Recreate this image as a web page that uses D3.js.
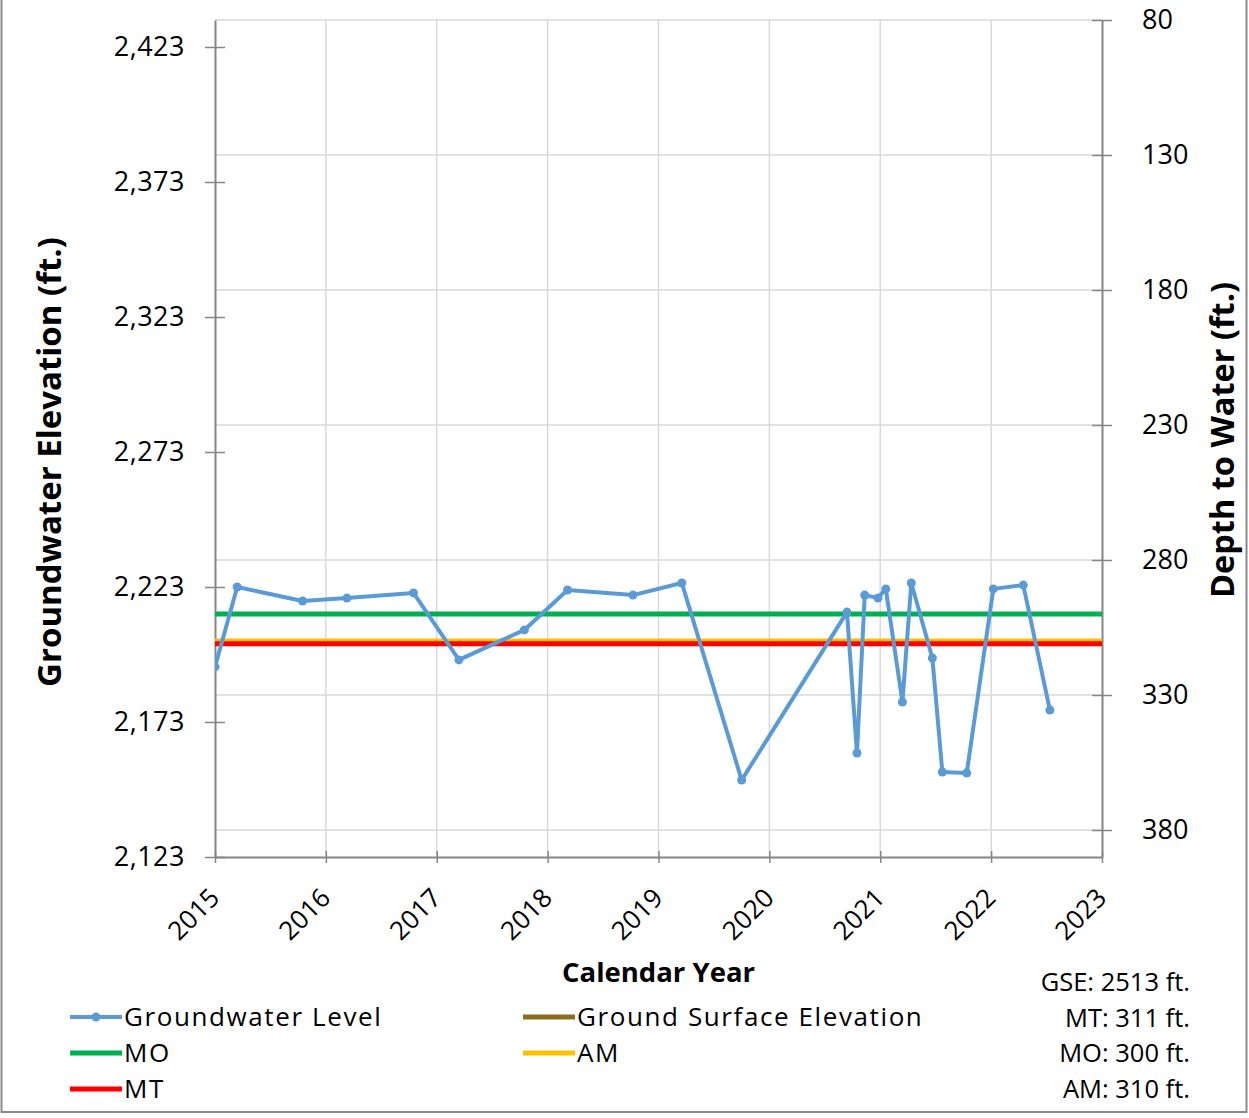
<!DOCTYPE html>
<html>
<head>
<meta charset="utf-8">
<script src="https://cdn.jsdelivr.net/npm/d3@7"></script>
<style>
  html, body { margin: 0; padding: 0; background: #fff; }
  svg { display: block; font-family: "Open Sans", Lato, sans-serif; }
</style>
</head>
<body>
<svg id="chart" width="1249" height="1118"></svg>
<script>
// ---- data ----
const GSE = 2513;
const dates = [2015.0, 2015.2, 2015.79, 2016.19, 2016.79, 2017.2, 2017.79, 2018.18, 2018.77, 2019.21,
               2019.75, 2020.7, 2020.79, 2020.86, 2020.98, 2021.05, 2021.2, 2021.28, 2021.47, 2021.56,
               2021.78, 2022.02, 2022.29, 2022.53];
const elevations = [2193.4, 2223.0, 2217.8, 2218.9, 2220.8, 2196.0, 2207.1, 2221.9, 2220.0, 2224.5,
                    2151.5, 2213.7, 2161.5, 2220.0, 2218.9, 2222.3, 2180.4, 2224.5, 2196.7, 2154.5,
                    2154.1, 2222.3, 2223.7, 2177.4];
const thresholdNames = ["Ground Surface Elevation", "AM", "MT", "MO"];
const thresholdDepths = [0, 310, 311, 300];
const thresholdColors = ["#8C6D1F", "#FFC000", "#FF0000", "#00B050"];
const leftTicks = [2123, 2173, 2223, 2273, 2323, 2373, 2423];
const rightTicks = [80, 130, 180, 230, 280, 330, 380];
const yearTicks = [2015, 2016, 2017, 2018, 2019, 2020, 2021, 2022, 2023];
const legendItems = [
  {name: "Groundwater Level", color: "#5B9BD5", marker: true},
  {name: "Ground Surface Elevation", color: "#8C6D1F"},
  {name: "MO", color: "#00B050"},
  {name: "AM", color: "#FFC000"},
  {name: "MT", color: "#FF0000"}
];
const notes = ["GSE: 2513 ft.", "MT: 311 ft.", "MO: 300 ft.", "AM: 310 ft."];

// ---- layout ----
const svg = d3.select("#chart");
const L = 215, R = 1102, T = 20, B = 857;
const x = d3.scaleLinear().domain([2015, 2023]).range([L, R]);
const yDepth = d3.scaleLinear().domain([80, 390]).range([T, B]);
const yElev = d3.scaleLinear().domain([GSE - 80, GSE - 390]).range([T, B]);

// outer border
svg.append("rect").attr("x", 1.5).attr("y", -2).attr("width", 1245).attr("height", 1114)
  .attr("fill", "none").attr("stroke", "#8a8a8a").attr("stroke-width", 2);

svg.append("clipPath").attr("id", "clip").append("rect")
  .attr("x", L).attr("y", T).attr("width", R - L).attr("height", B - T);

// gridlines
const grid = svg.append("g").attr("stroke", "#d9d9d9").attr("stroke-width", 1.5);
grid.selectAll(".h").data(rightTicks).join("line")
  .attr("x1", L).attr("x2", R).attr("y1", d => yDepth(d)).attr("y2", d => yDepth(d));
grid.selectAll(".v").data(yearTicks.slice(1, -1)).join("line")
  .attr("y1", T).attr("y2", B).attr("x1", d => x(d)).attr("x2", d => x(d));

// axes
const axisColor = "#868686";
const gL = svg.append("g").attr("transform", `translate(${L},0)`)
  .call(d3.axisLeft(yElev).tickValues(leftTicks).tickFormat(d3.format(",")).tickSize(0).tickPadding(30));
const gR = svg.append("g").attr("transform", `translate(${R},0)`)
  .call(d3.axisRight(yDepth).tickValues(rightTicks).tickFormat(d3.format("d")).tickSize(0).tickPadding(40));
const gB = svg.append("g").attr("transform", `translate(0,${B})`)
  .call(d3.axisBottom(x).tickValues(yearTicks).tickFormat(d3.format("d")).tickSize(0).tickPadding(10));
[gL, gR, gB].forEach(g => {
  g.select(".domain").attr("stroke", axisColor).attr("stroke-width", 2);
  g.selectAll("text").attr("font-size", 27).attr("fill", "#000").attr("font-family", "'Open Sans', sans-serif");
});
gL.selectAll("text").attr("letter-spacing", "0.5px");
gB.selectAll("text").attr("text-anchor", "end").attr("dy", "0.3em").attr("font-size", 26)
  .attr("transform", "translate(-7,30) rotate(-45)");
// cross ticks
gL.selectAll(".tick").append("line").attr("x1", -10).attr("x2", 10).attr("stroke", axisColor).attr("stroke-width", 1.5);
gR.selectAll(".tick").append("line").attr("x1", -10).attr("x2", 10).attr("stroke", axisColor).attr("stroke-width", 1.5);
gB.selectAll(".tick").append("line").attr("y1", -6).attr("y2", 6).attr("stroke", axisColor).attr("stroke-width", 1.5);

// threshold lines
const plot = svg.append("g").attr("clip-path", "url(#clip)");
plot.selectAll(".thr").data(thresholdDepths).join("line")
  .attr("x1", L).attr("x2", R)
  .attr("y1", d => yDepth(d)).attr("y2", d => yDepth(d))
  .attr("stroke", (d, i) => thresholdColors[i]).attr("stroke-width", 5);

// groundwater level
const pts = dates.map((d, i) => [d, elevations[i]]);
plot.append("path").datum(pts)
  .attr("fill", "none").attr("stroke", "#5B9BD5").attr("stroke-width", 4).attr("stroke-linejoin", "round")
  .attr("d", d3.line().x(d => x(d[0])).y(d => yElev(d[1])));
plot.selectAll(".pt").data(pts).join("circle")
  .attr("cx", d => x(d[0])).attr("cy", d => yElev(d[1])).attr("r", 4.5).attr("fill", "#5B9BD5");

// axis titles
svg.append("text").attr("transform", `translate(61,462) rotate(-90)`)
  .attr("text-anchor", "middle").attr("font-size", 33).attr("font-weight", "bold").text("Groundwater Elevation (ft.)");
svg.append("text").attr("transform", `translate(1234,440) rotate(-90)`)
  .attr("text-anchor", "middle").attr("font-size", 32.5).attr("font-weight", "bold").text("Depth to Water (ft.)");
svg.append("text").attr("x", (L + R) / 2).attr("y", 982)
  .attr("text-anchor", "middle").attr("font-size", 27.5).attr("font-weight", "bold").text("Calendar Year");

// legend
const legPos = [[70, 1017], [523, 1017], [70, 1053], [523, 1053], [70, 1089]];
const leg = svg.append("g").selectAll("g").data(legendItems).join("g")
  .attr("transform", (d, i) => `translate(${legPos[i][0]},${legPos[i][1]})`);
leg.append("line").attr("x1", 0).attr("x2", 52).attr("stroke", d => d.color).attr("stroke-width", d => d.marker ? 4 : 5);
leg.filter(d => d.marker).append("circle").attr("cx", 26).attr("r", 4.5).attr("fill", d => d.color);
leg.append("text").attr("x", 54).attr("dy", "0.35em").attr("font-size", 26)
  .attr("letter-spacing", "1.6px").text(d => d.name);

// notes
svg.append("g").selectAll("text").data(notes).join("text")
  .attr("x", 1190).attr("y", (d, i) => 982 + i * 35.7).attr("dy", "0.35em")
  .attr("text-anchor", "end").attr("font-size", 25.5).text(d => d);
</script>
</body>
</html>
